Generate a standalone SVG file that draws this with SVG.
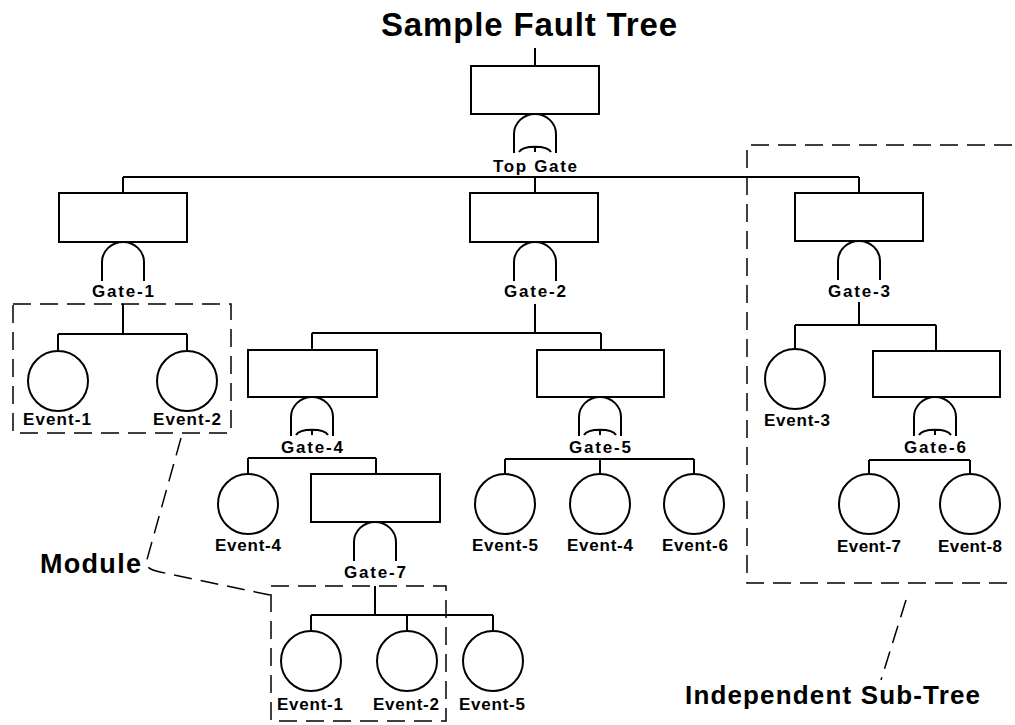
<svg xmlns="http://www.w3.org/2000/svg" xmlns:xlink="http://www.w3.org/1999/xlink" width="1015" height="725" viewBox="0 0 1015 725">
<style>
  .bg{fill:#fff}
  .box{fill:#fff;stroke:#000;stroke-width:2}
  .ev{fill:#fff;stroke:#000;stroke-width:2}
  .gate{fill:none;stroke:#000;stroke-width:2}
  .ln{fill:none;stroke:#000;stroke-width:2}
  .dash{fill:none;stroke:#000;stroke-width:1.5;stroke-dasharray:18 9}
  .lbl{font-family:"Liberation Sans",Arial,sans-serif;font-weight:bold;font-size:17px;text-anchor:middle;fill:#000}
  .big{font-family:"Liberation Sans",Arial,sans-serif;font-weight:bold;fill:#000}
</style>
<defs>
  <path id="andg" class="gate" d="M -21 39 V 20 A 21 20 0 0 1 21 20 V 39"/>
  <g id="org">
    <path class="gate" d="M -21 39 V 20 A 21 20 0 0 1 21 20 V 39"/>
    <path class="gate" d="M -16 38 C -12 31 12 31 16 38 M 0 33 V 38"/>
  </g>
</defs>
<rect class="bg" x="0" y="0" width="1015" height="725"/>

<text class="big" x="529" y="36" font-size="33" text-anchor="middle" textLength="296" lengthAdjust="spacing">Sample Fault Tree</text>

<g id="connectors">
  <path class="ln" d="M535 48 V66"/>
  <path class="ln" d="M123 177 H859 M123 177 V193 M535 177 V193 M859 177 V193"/>
  <path class="ln" d="M123 304 V334 M58 334 H187 M58 334 V351 M187 334 V351"/>
  <path class="ln" d="M535 304 V333 M312 333 H601 M312 333 V350 M601 333 V350"/>
  <path class="ln" d="M859 302 V325 M795 325 H936 M795 325 V349 M936 325 V352"/>
  <path class="ln" d="M248 458 H376 M248 458 V474 M376 458 V474"/>
  <path class="ln" d="M505 459 H694 M505 459 V473 M600 459 V473 M694 459 V473"/>
  <path class="ln" d="M869 460 H970 M869 460 V473 M970 460 V473"/>
  <path class="ln" d="M375 586 V615 M311 615 H493 M311 615 V630 M407 615 V630 M493 615 V630"/>
</g>

<g id="top-event">
  <rect class="box" x="471" y="66" width="128" height="48"/>
</g>
<g id="top-gate">
  <use xlink:href="#org" transform="translate(535,114)"/>
  <text class="lbl" x="535" y="172" textLength="84" lengthAdjust="spacing">Top Gate</text>
</g>

<g id="gate-1">
  <rect class="box" x="59" y="193" width="128" height="49"/>
  <use xlink:href="#andg" transform="translate(123,242)"/>
  <text class="lbl" x="123" y="297" textLength="62" lengthAdjust="spacing">Gate-1</text>
</g>
<g id="gate-2">
  <rect class="box" x="470" y="193" width="128" height="49"/>
  <use xlink:href="#andg" transform="translate(535,242)"/>
  <text class="lbl" x="535" y="297" textLength="62" lengthAdjust="spacing">Gate-2</text>
</g>
<g id="gate-3">
  <rect class="box" x="795" y="193" width="128" height="48"/>
  <use xlink:href="#andg" transform="translate(859,241)"/>
  <text class="lbl" x="859" y="297" textLength="62" lengthAdjust="spacing">Gate-3</text>
</g>
<g id="gate-4">
  <rect class="box" x="248" y="350" width="129" height="47"/>
  <use xlink:href="#org" transform="translate(312,397)"/>
  <text class="lbl" x="312" y="453" textLength="62" lengthAdjust="spacing">Gate-4</text>
</g>
<g id="gate-5">
  <rect class="box" x="537" y="350" width="127" height="47"/>
  <use xlink:href="#org" transform="translate(600,397)"/>
  <text class="lbl" x="600" y="453" textLength="62" lengthAdjust="spacing">Gate-5</text>
</g>
<g id="gate-6">
  <rect class="box" x="873" y="351" width="127" height="46"/>
  <use xlink:href="#org" transform="translate(935,397)"/>
  <text class="lbl" x="935" y="453" textLength="62" lengthAdjust="spacing">Gate-6</text>
</g>
<g id="gate-7">
  <rect class="box" x="311" y="474" width="129" height="48"/>
  <use xlink:href="#andg" transform="translate(375,522)"/>
  <text class="lbl" x="375" y="578" textLength="62" lengthAdjust="spacing">Gate-7</text>
</g>

<g id="event-1a"><circle class="ev" cx="58" cy="381" r="30"/><text class="lbl" x="57" y="425" textLength="68" lengthAdjust="spacing">Event-1</text></g>
<g id="event-2a"><circle class="ev" cx="187" cy="381" r="30"/><text class="lbl" x="187" y="425" textLength="68" lengthAdjust="spacing">Event-2</text></g>
<g id="event-3"><circle class="ev" cx="795" cy="379" r="30"/><text class="lbl" x="797" y="426" textLength="66" lengthAdjust="spacing">Event-3</text></g>
<g id="event-4a"><circle class="ev" cx="248" cy="504" r="30"/><text class="lbl" x="248" y="551" textLength="66" lengthAdjust="spacing">Event-4</text></g>
<g id="event-5a"><circle class="ev" cx="505" cy="504" r="30"/><text class="lbl" x="505" y="551" textLength="66" lengthAdjust="spacing">Event-5</text></g>
<g id="event-4b"><circle class="ev" cx="600" cy="504" r="30"/><text class="lbl" x="600" y="551" textLength="66" lengthAdjust="spacing">Event-4</text></g>
<g id="event-6"><circle class="ev" cx="694" cy="504" r="30"/><text class="lbl" x="695" y="551" textLength="66" lengthAdjust="spacing">Event-6</text></g>
<g id="event-7"><circle class="ev" cx="869" cy="504" r="30"/><text class="lbl" x="869" y="552" textLength="64" lengthAdjust="spacing">Event-7</text></g>
<g id="event-8"><circle class="ev" cx="970" cy="504" r="30"/><text class="lbl" x="970" y="552" textLength="64" lengthAdjust="spacing">Event-8</text></g>
<g id="event-1b"><circle class="ev" cx="311" cy="661" r="30"/><text class="lbl" x="310" y="710" textLength="66" lengthAdjust="spacing">Event-1</text></g>
<g id="event-2b"><circle class="ev" cx="407" cy="661" r="30"/><text class="lbl" x="406" y="710" textLength="66" lengthAdjust="spacing">Event-2</text></g>
<g id="event-5b"><circle class="ev" cx="493" cy="661" r="30"/><text class="lbl" x="492" y="710" textLength="66" lengthAdjust="spacing">Event-5</text></g>

<g id="module-1"><rect class="dash" x="13" y="304" width="218" height="129"/></g>
<g id="module-2"><rect class="dash" x="271" y="586" width="175" height="135"/></g>
<g id="independent-subtree"><path class="dash" d="M1012 145 H747 V583 H1012"/></g>

<g id="module-label">
  <path class="dash" d="M181 438 L146 563 Q146 569 160 572 L270 595"/>
  <text class="big" x="40" y="573" font-size="27" textLength="101" lengthAdjust="spacing">Module</text>
</g>
<g id="subtree-label">
  <path class="dash" d="M906 600 L881 680"/>
  <text class="big" x="685" y="704" font-size="26" textLength="295" lengthAdjust="spacing">Independent Sub-Tree</text>
</g>
</svg>
